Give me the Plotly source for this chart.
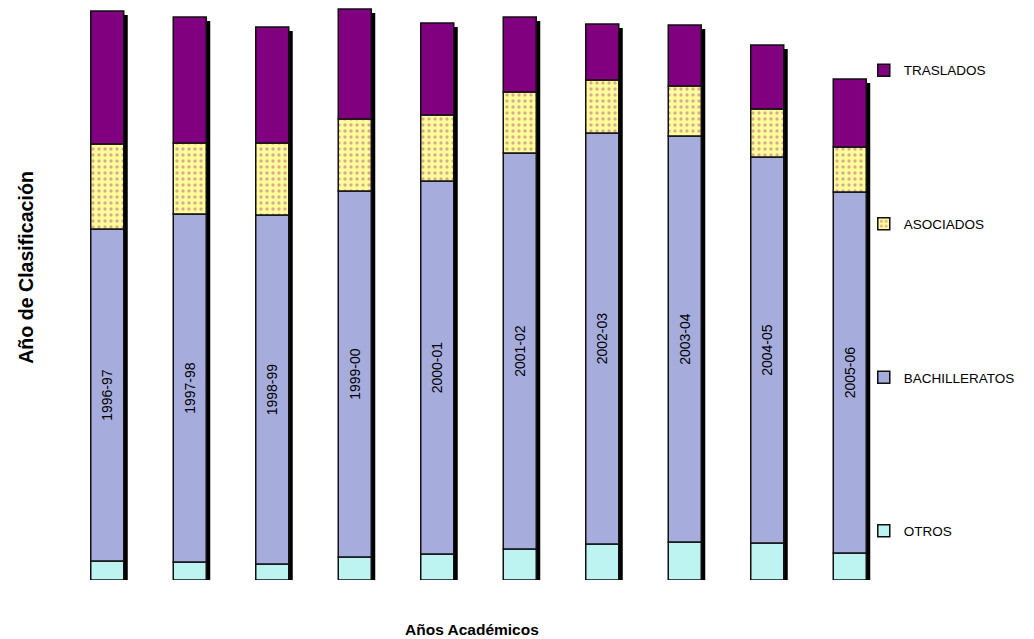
import numpy as np
import plotly.graph_objects as go

years = ["1996-97", "1997-98", "1998-99", "1999-00", "2000-01",
         "2001-02", "2002-03", "2003-04", "2004-05", "2005-06"]
otros = [19, 18, 16, 23, 26, 31, 36, 38, 37, 27]
bachilleratos = [332, 348, 349, 366, 373, 396, 411, 406, 386, 361]
asociados = [85, 71, 72, 72, 66, 61, 53, 50, 48, 45]
traslados = [133, 126, 116, 110, 92, 75, 56, 61, 64, 68]

FONT = "Liberation Sans, Arial, sans-serif"
BAR_W = 0.4
SHADOW_PX = 4
PX_PER_CAT = 82.5

o = np.array(otros)
b = np.array(bachilleratos)
a = np.array(asociados)
t = np.array(traslados)
total = o + b + a + t

base_b = [int(v) for v in o]
base_a = [int(v) for v in o + b]
base_t = [int(v) for v in o + b + a]
shadow_h = [int(v) - SHADOW_PX for v in total]

fig = go.Figure()

# shadow
fig.add_trace(go.Bar(
    x=years, y=shadow_h, base=0,
    width=BAR_W, offset=-BAR_W / 2 + SHADOW_PX / PX_PER_CAT,
    marker=dict(color="black", line=dict(width=0)),
    showlegend=False, hoverinfo="skip"))

line = dict(color="#111111", width=1.5)

fig.add_trace(go.Bar(
    x=years, y=otros, base=0, name="OTROS", width=BAR_W,
    legendgroup="o", legendrank=4,
    marker=dict(color="#BDF3F0", line=line)))
fig.add_trace(go.Bar(
    x=years, y=bachilleratos, base=base_b, name="BACHILLERATOS", width=BAR_W,
    legendgroup="b", legendrank=3,
    text=years, textposition="inside", textangle=-90,
    insidetextanchor="middle",
    textfont=dict(family=FONT, size=14, color="black"),
    marker=dict(color="#A6ADDD", line=line)))
fig.add_trace(go.Bar(
    x=years, y=asociados, base=base_a, name="ASOCIADOS", width=BAR_W,
    legendgroup="a", legendrank=2,
    marker=dict(color="#FFFF99", line=line,
                pattern=dict(shape=".", fillmode="overlay",
                             fgcolor="#C0508A", size=6, solidity=0.25))))
fig.add_trace(go.Bar(
    x=years, y=traslados, base=base_t, name="TRASLADOS", width=BAR_W,
    legendgroup="t", legendrank=1,
    marker=dict(color="#800080", line=line)))

fig.update_layout(
    width=1026, height=631,
    margin=dict(l=58, r=143, t=0, b=59),
    barmode="overlay",
    plot_bgcolor="white", paper_bgcolor="white",
    font=dict(family=FONT, color="black"),
    xaxis=dict(type="category", range=[-0.5, 9.5], showticklabels=False,
               showgrid=False, zeroline=False, showline=False, ticks=""),
    yaxis=dict(range=[0, 572], showticklabels=False, showgrid=False,
               zeroline=False, showline=False, ticks=""),
    legend=dict(x=0.967, xanchor="left", y=0.918, yanchor="top",
                traceorder="grouped", tracegroupgap=133,
                font=dict(family=FONT, size=13.5, color="black"),
                bgcolor="rgba(0,0,0,0)"),
    annotations=[
        dict(text="<b>Años Académicos</b>", xref="paper", yref="paper",
             x=0.492, y=-0.0857, xanchor="center", yanchor="middle",
             showarrow=False, font=dict(family=FONT, size=15.5)),
        dict(text="<b>Año de Clasificación</b>", xref="paper", yref="paper",
             x=-0.0488, y=0.547, xanchor="center", yanchor="middle",
             textangle=-90, showarrow=False, font=dict(family=FONT, size=19.6)),
    ],
)

fig.write_html("out.html")
